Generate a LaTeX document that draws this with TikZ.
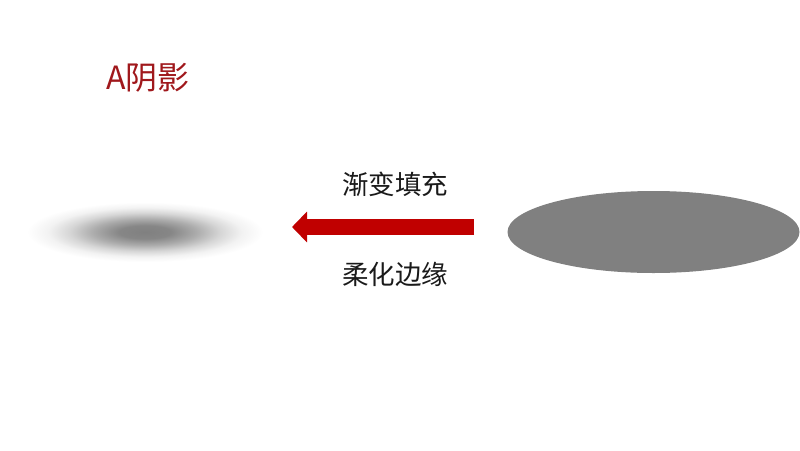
\documentclass[tikz,border=0pt]{standalone}
\usepackage{fontspec}
\setmainfont{Noto Sans CJK SC}
\usetikzlibrary{arrows.meta}
\definecolor{titlered}{HTML}{A0181C}
\definecolor{arrowred}{HTML}{C00000}
\definecolor{shapegray}{HTML}{808080}
\definecolor{textdark}{HTML}{1A1A1A}
\pgfdeclareradialshading{softedge}{\pgfpoint{0bp}{0bp}}{%
  color(0bp)=(shapegray);
  color(5.5bp)=(shapegray!95!white);
  color(11bp)=(shapegray!65!white);
  color(16bp)=(shapegray!32!white);
  color(20.5bp)=(shapegray!10!white);
  color(25bp)=(white);
  color(50bp)=(white)}
\tikzset{
  titletext/.style={font=\fontsize{32}{32}\selectfont, text=titlered, inner sep=0pt},
  labeltext/.style={font=\fontsize{26.5}{26.5}\selectfont, text=textdark, inner sep=0pt},
  bigarrow/.style={draw=arrowred, line width=16pt, -{Triangle[length=15pt,width=30pt]}}
}
\begin{document}
\begin{tikzpicture}[x=1pt,y=-1pt]
  \useasboundingbox (0,0) rectangle (800,450);
  \fill[white] (0,0) rectangle (800,450);
  % title
  \node[titletext, anchor=west] (title) at (106,78) {A阴影};
  % blurred shadow
  \shade[shading=softedge] (145,232) ellipse [x radius=118, y radius=30];
  \coordinate (shadow) at (145,232);
  % solid ellipse
  \fill[shapegray] (653.5,232) ellipse [x radius=146, y radius=41];
  \coordinate (solid) at (653.5,232);
  % arrow
  \coordinate (arrowtail) at (474,227);
  \coordinate (arrowtip) at (292,227);
  \draw[bigarrow] (arrowtail) -- (arrowtip);
  % labels
  \node[labeltext] (top) at (395,184) {渐变填充};
  \node[labeltext] (bottom) at (395,274) {柔化边缘};
\end{tikzpicture}
\end{document}
